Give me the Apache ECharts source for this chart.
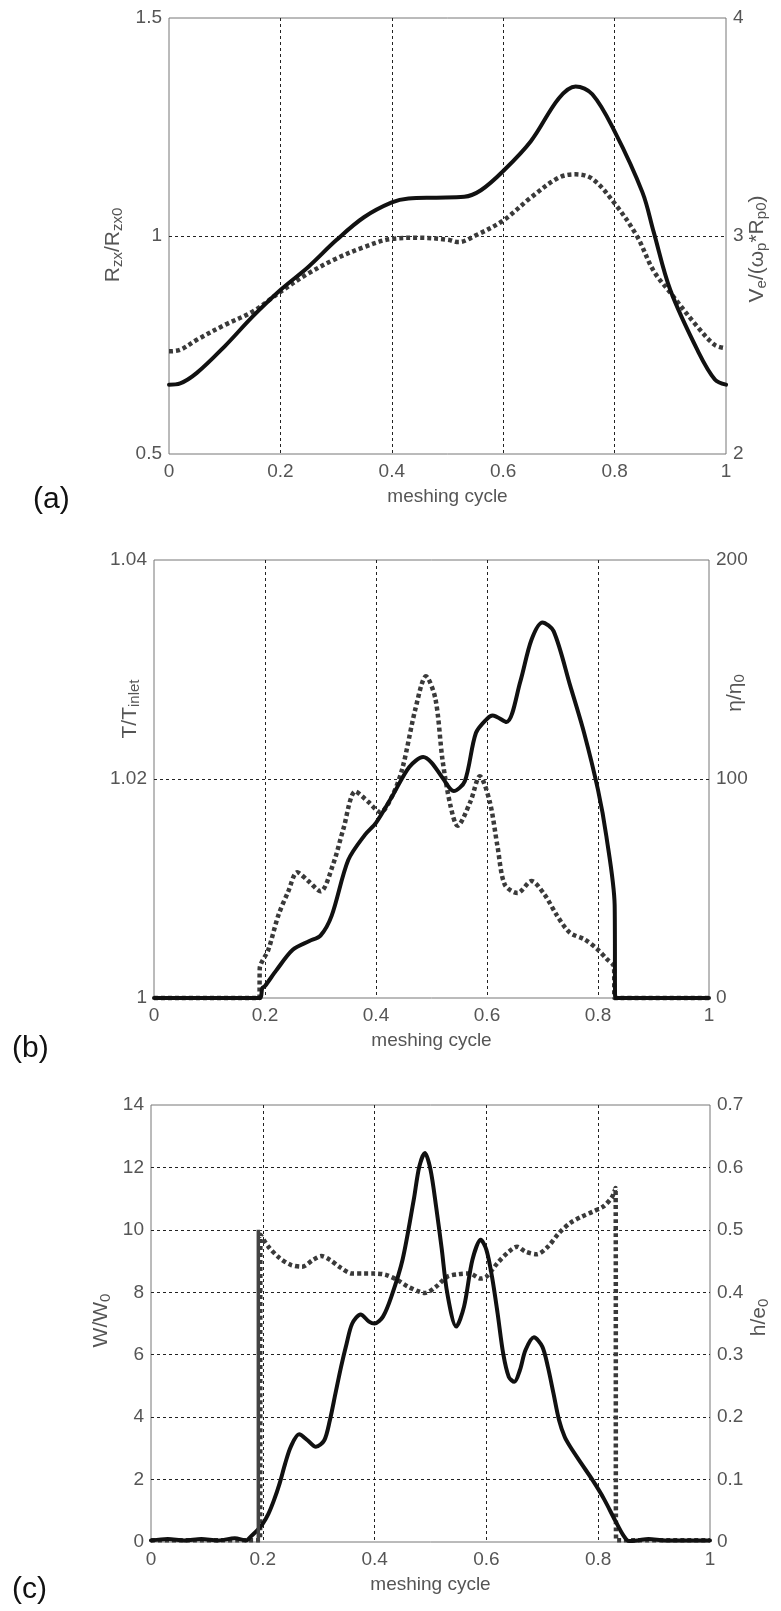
<!DOCTYPE html>
<html><head><meta charset="utf-8">
<script src="https://cdn.jsdelivr.net/npm/echarts@6/dist/echarts.min.js"></script>
<style>html,body{margin:0;padding:0;background:#fff}#c{width:781px;height:1611px}</style>
</head><body><div id="c"></div>
<script>
// ---------- tick labels ----------
const xTicks = ['0', '0.2', '0.4', '0.6', '0.8', '1'];
const aLeftTicks = ['0.5', '1', '1.5'];
const aRightTicks = ['2', '3', '4'];
const bLeftTicks = ['1', '1.02', '1.04'];
const bRightTicks = ['0', '100', '200'];
const cLeftTicks = ['0', '2', '4', '6', '8', '10', '12', '14'];
const cRightTicks = ['0', '0.1', '0.2', '0.3', '0.4', '0.5', '0.6', '0.7'];

// ---------- (a) ----------
const aSolidX = [0, 0.02, 0.05, 0.1, 0.15, 0.2, 0.25, 0.3, 0.35, 0.4, 0.43, 0.48, 0.53, 0.56, 0.6, 0.65, 0.7, 0.73, 0.76, 0.8, 0.85, 0.87, 0.9, 0.95, 0.98, 1.0];
const aSolidY = [0.659, 0.662, 0.686, 0.747, 0.815, 0.876, 0.929, 0.99, 1.043, 1.077, 1.086, 1.088, 1.09, 1.105, 1.149, 1.218, 1.316, 1.343, 1.325, 1.24, 1.10, 1.01, 0.876, 0.735, 0.671, 0.659];
const aDotX = [0, 0.02, 0.05, 0.1, 0.15, 0.2, 0.25, 0.3, 0.35, 0.4, 0.45, 0.5, 0.52, 0.55, 0.6, 0.65, 0.7, 0.73, 0.76, 0.8, 0.84, 0.87, 0.9, 0.95, 0.98, 1.0];
const aDotY = [2.471, 2.478, 2.524, 2.592, 2.653, 2.744, 2.828, 2.896, 2.949, 2.987, 2.992, 2.983, 2.972, 3.002, 3.071, 3.177, 3.268, 3.283, 3.262, 3.15, 3.0, 2.84, 2.74, 2.58, 2.50, 2.485];

// ---------- (b) ----------
const bSolidX = [0, 0.185, 0.192, 0.195, 0.2, 0.22, 0.25, 0.28, 0.3, 0.32, 0.35, 0.38, 0.4, 0.43, 0.46, 0.485, 0.5, 0.52, 0.54, 0.56, 0.58, 0.6, 0.61, 0.635, 0.66, 0.68, 0.70, 0.72, 0.75, 0.775, 0.80, 0.815, 0.83, 0.831, 0.84, 1.0];
const bSolidY = [1.0, 1.0, 1.0, 1.0009, 1.0011, 1.0025, 1.0044, 1.0052, 1.0057, 1.0075, 1.0126, 1.0149, 1.016, 1.0185, 1.0211, 1.022, 1.0215, 1.0201, 1.0189, 1.0198, 1.0242, 1.0255, 1.0258, 1.0252, 1.0289, 1.0327, 1.0343, 1.0335, 1.0285, 1.0242, 1.019, 1.0148, 1.0085, 1.0, 1.0, 1.0];
const bDotX = [0, 0.18, 0.19, 0.1905, 0.206, 0.224, 0.242, 0.258, 0.278, 0.300, 0.323, 0.341, 0.363, 0.386, 0.408, 0.430, 0.448, 0.471, 0.490, 0.507, 0.520, 0.534, 0.547, 0.570, 0.587, 0.605, 0.619, 0.632, 0.655, 0.680, 0.704, 0.726, 0.749, 0.776, 0.798, 0.815, 0.829, 0.8295, 0.84, 1.0];
const bDotY = [0, 0, 0, 13.4, 22.0, 37.7, 48.7, 57.4, 53.4, 48.7, 61.3, 77.0, 94.3, 89.6, 84.8, 92.7, 105.3, 132.0, 146.9, 136.7, 108.4, 88.0, 78.6, 89.6, 101.3, 89.6, 69.1, 51.8, 47.9, 53.4, 47.1, 37.7, 29.9, 26.7, 22.5, 18.0, 14.1, 0, 0, 0];

// ---------- (c) ----------
const cSolidX = [0, 0.03, 0.06, 0.09, 0.12, 0.15, 0.17, 0.18, 0.19, 0.2, 0.21, 0.22, 0.23, 0.24, 0.25, 0.265, 0.28, 0.295, 0.31, 0.32, 0.33, 0.34, 0.35, 0.36, 0.375, 0.39, 0.40, 0.415, 0.43, 0.45, 0.47, 0.48, 0.49, 0.50, 0.51, 0.52, 0.53, 0.546, 0.56, 0.575, 0.59, 0.60, 0.61, 0.62, 0.63, 0.64, 0.65, 0.66, 0.67, 0.685, 0.70, 0.71, 0.72, 0.73, 0.74, 0.75, 0.77, 0.79, 0.81, 0.83, 0.845, 0.855, 0.87, 0.89, 0.92, 0.96, 1.0];
const cSolidY = [0.05, 0.1, 0.05, 0.1, 0.05, 0.12, 0.05, 0.2, 0.37, 0.59, 0.9, 1.34, 1.87, 2.51, 3.05, 3.45, 3.26, 3.05, 3.26, 3.9, 4.76, 5.61, 6.36, 7.0, 7.29, 7.06, 7.0, 7.22, 7.86, 9.04, 10.96, 12.03, 12.46, 11.93, 10.75, 9.4, 7.97, 6.9, 7.54, 9.04, 9.68, 9.36, 8.5, 7.33, 6.04, 5.29, 5.13, 5.51, 6.15, 6.56, 6.26, 5.61, 4.76, 3.9, 3.37, 3.05, 2.51, 1.98, 1.39, 0.7, 0.21, 0.03, 0.05, 0.1, 0.05, 0.05, 0.05];
const cDotX = [0, 0.19, 0.195, 0.196, 0.21, 0.23, 0.25, 0.27, 0.29, 0.305, 0.32, 0.34, 0.36, 0.38, 0.40, 0.42, 0.44, 0.46, 0.48, 0.49, 0.51, 0.53, 0.55, 0.57, 0.59, 0.60, 0.62, 0.64, 0.655, 0.67, 0.69, 0.71, 0.73, 0.75, 0.77, 0.79, 0.81, 0.825, 0.831, 0.832, 0.84, 1.0];
const cDotY = [0.003, 0.003, 0.003, 0.492, 0.473, 0.455, 0.444, 0.441, 0.452, 0.458, 0.452, 0.439, 0.430, 0.430, 0.430, 0.428, 0.420, 0.409, 0.401, 0.399, 0.409, 0.425, 0.429, 0.430, 0.422, 0.425, 0.447, 0.465, 0.473, 0.465, 0.461, 0.473, 0.495, 0.511, 0.521, 0.529, 0.538, 0.553, 0.567, 0.003, 0.003, 0.003];
const cBarX = [0.192, 0.192];
const cBarY = [0, 10];

// ---------- build ----------
const FONT = '"Liberation Sans", Arial, sans-serif';
const zip = (xs, ys) => xs.map((x, i) => [x, ys[i]]);
const tickFmt = (labels, min, step) => v => labels[Math.round((v - min) / step)] ?? '';

const gridLine = { show: true, showMinLine: false, showMaxLine: false, lineStyle: { color: '#222', width: 1, type: [3, 3] } };
const lblStyle = { color: '#555', fontSize: 19, fontFamily: FONT };
const nameBase = { color: '#555', fontSize: 21, fontFamily: FONT, lineHeight: 24,
  rich: { sub: { fontSize: 15, fontFamily: FONT, color: '#555', lineHeight: 10, verticalAlign: 'bottom' } } };

const grids = [
  { left: 169, top: 18, width: 557, height: 436 },
  { left: 154, top: 560, width: 555, height: 438 },
  { left: 151, top: 1105, width: 559, height: 437 }
].map(g => Object.assign(g, { show: true, borderColor: '#777', borderWidth: 1, backgroundColor: 'transparent', containLabel: false }));

const xAxes = [0, 1, 2].map(i => ({
  type: 'value', gridIndex: i, min: 0, max: 1, interval: 0.2,
  axisLine: { show: false }, axisTick: { show: false },
  axisLabel: Object.assign({ margin: 8, formatter: tickFmt(xTicks, 0, 0.2) }, lblStyle),
  splitLine: gridLine,
  name: 'meshing cycle', nameLocation: 'middle', nameGap: 33, nameMoveOverlap: false,
  nameTextStyle: { color: '#555', fontSize: 19, fontFamily: FONT }
}));

function yAx(gi, pos, min, max, step, labels, name, gap, pad, split) {
  return {
    type: 'value', gridIndex: gi, position: pos, min: min, max: max, interval: step,
    axisLine: { show: false }, axisTick: { show: false },
    axisLabel: Object.assign({ margin: 7, formatter: tickFmt(labels, min, step) }, lblStyle),
    splitLine: split ? gridLine : { show: false },
    name: name, nameLocation: 'middle', nameRotate: 90, nameGap: gap, nameMoveOverlap: false,
    nameTextStyle: Object.assign({ padding: pad }, nameBase)
  };
}

const yAxes = [
  yAx(0, 'left', 0.5, 1.5, 0.5, aLeftTicks, 'R{sub|zx}/R{sub|zx0}', 44, [0, 18, 0, 0], true),
  yAx(0, 'right', 2, 4, 1, aRightTicks, 'V{sub|e}/(ω{sub|p}*R{sub|p0})', 19, [0, 26, 0, 0], false),
  yAx(1, 'left', 1, 1.04, 0.02, bLeftTicks, 'T/T{sub|inlet}', 12, [0, 0, 0, 140], true),
  yAx(1, 'right', 0, 200, 100, bRightTicks, 'η/η{sub|0}', 14, [0, 0, 0, 172], false),
  yAx(2, 'left', 0, 14, 2, cLeftTicks, 'W/W{sub|0}', 38, [0, 0, 0, 6], true),
  yAx(2, 'right', 0, 0.7, 0.1, cRightTicks, 'h/e{sub|0}', 37, [0, 0, 0, 12], false)
];

const solid = { color: '#111', width: 4, type: 'solid', cap: 'round', join: 'round' };
const dotted = { color: '#3a3a3a', width: 4.5, type: [4, 3], cap: 'butt' };
function ser(xi, yi, xs, ys, style, smooth) {
  return { type: 'line', xAxisIndex: xi, yAxisIndex: yi, data: zip(xs, ys), showSymbol: false, symbol: 'none',
    smooth: smooth, clip: false, lineStyle: style, silent: true, animation: false };
}

const option = {
  animation: false,
  backgroundColor: '#fff',
  title: [
    { text: '(a)', left: 33, top: 485 },
    { text: '(b)', left: 12, top: 1034 },
    { text: '(c)', left: 12, top: 1575 }
  ].map(t => Object.assign(t, { padding: 0, textStyle: { fontSize: 30, fontWeight: 'normal', color: '#111', fontFamily: FONT, lineHeight: 30 } })),
  grid: grids,
  xAxis: xAxes,
  yAxis: yAxes,
  series: [
    ser(0, 1, aDotX, aDotY, dotted, 0.35),
    ser(0, 0, aSolidX, aSolidY, solid, 0.35),
    ser(1, 3, bDotX, bDotY, dotted, 0.3),
    ser(1, 2, bSolidX, bSolidY, solid, 0.3),
    ser(2, 5, cDotX, cDotY, dotted, 0.3),
    ser(2, 4, cSolidX, cSolidY, solid, 0.3),
    ser(2, 4, cBarX, cBarY, { color: '#444', width: 3.5, type: 'solid' }, false)
  ]
};

const chart = echarts.init(document.getElementById('c'));
chart.setOption(option);
</script></body></html>
